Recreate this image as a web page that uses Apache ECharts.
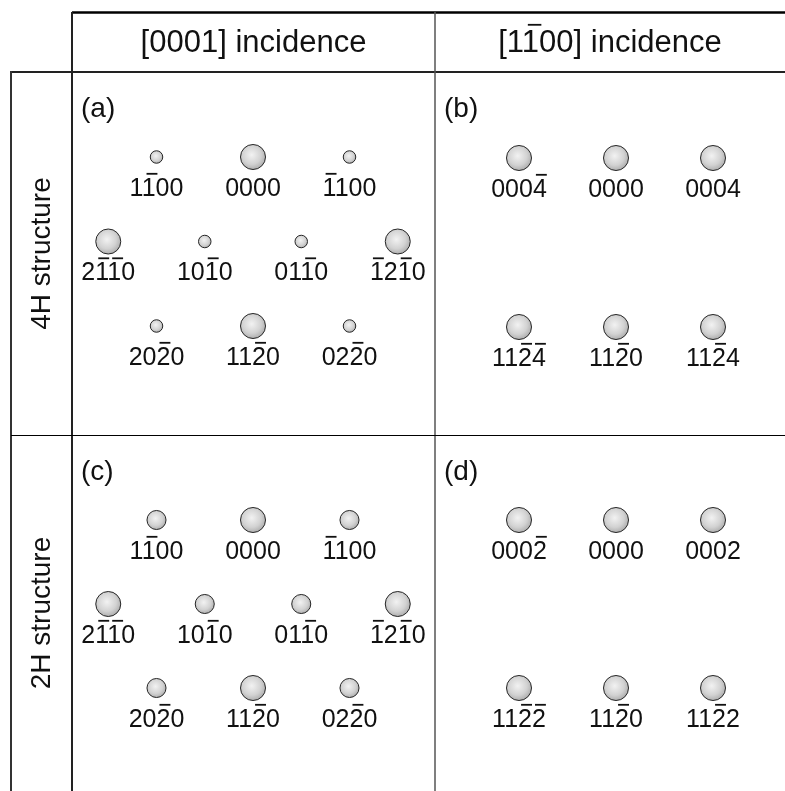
<!DOCTYPE html>
<html>
<head>
<meta charset="utf-8">
<script src="https://cdn.jsdelivr.net/npm/echarts@6/dist/echarts.min.js"></script>
<style>
  html, body { margin: 0; padding: 0; background: #fff; }
  #chart { width: 785px; height: 791px; }
</style>
</head>
<body>
<div id="chart"></div>
<script>
// Miller–Bravais indices of the reflections; a '-' marks the next digit as negative (drawn with an overbar)
const zone0001Labels = ['1-100', '0000', '-1100', '2-1-10', '10-10', '01-10', '-12-10', '20-20', '11-20', '02-20'];
const zone0001H = [-1, 0, 1, -1.5, -0.5, 0.5, 1.5, -1, 0, 1];
const zone0001V = [0, 0, 0, -1, -1, -1, -1, -2, -2, -2];
const intensity4H0001 = [0.25, 1, 0.25, 1, 0.25, 0.25, 1, 0.25, 1, 0.25];
const intensity2H0001 = [0.58, 1, 0.58, 1, 0.58, 0.58, 1, 0.58, 1, 0.58];

const zone1100H = [-1, 0, 1, -1, 0, 1];
const zone1100V = [0, 0, 0, -2, -2, -2];
const labels4H1100 = ['000-4', '0000', '0004', '11-2-4', '11-20', '11-24'];
const labels2H1100 = ['000-2', '0000', '0002', '11-2-2', '11-20', '11-22'];
const intensity4H1100 = [1, 1, 1, 1, 1, 1];
const intensity2H1100 = [1, 1, 1, 1, 1, 1];

const columnHeaders = ['[0001] incidence', '[1-100] incidence'];
const rowHeaders = ['4H structure', '2H structure'];
const panelTags = ['(a)', '(b)', '(c)', '(d)'];

const FONT = '"Liberation Sans", Arial, Helvetica, sans-serif';
const INK = '#111';
const SPOT_R = 12.5;     // radius of a full-intensity spot, px
const LABEL_FS = 25;
const LABEL_DY = 32;     // label centre below the spot centre

// table layout
const COL_X = [72, 435, 785];
const ROW_Y = [72, 435, 791];

const panels = [
  { col: 0, row: 0, origin: [253, 157], step: [96.5, 84.5], labels: zone0001Labels, h: zone0001H, v: zone0001V, I: intensity4H0001 },
  { col: 1, row: 0, origin: [616, 158], step: [97, 84.5],   labels: labels4H1100,   h: zone1100H, v: zone1100V, I: intensity4H1100 },
  { col: 0, row: 1, origin: [253, 520], step: [96.5, 84],   labels: zone0001Labels, h: zone0001H, v: zone0001V, I: intensity2H0001 },
  { col: 1, row: 1, origin: [616, 520], step: [97, 84],     labels: labels2H1100,   h: zone1100H, v: zone1100V, I: intensity2H1100 }
];

const measureCtx = document.createElement('canvas').getContext('2d');

function parseIndices(str) {
  let text = '';
  const bars = [];
  for (let i = 0; i < str.length; i++) {
    if (str[i] === '-' && /\d/.test(str[i + 1] || '')) bars.push(text.length);
    else text += str[i];
  }
  return { text, bars };
}

// Text centred at (cx, cy) with overbars above the negative digits
function indexElements(str, cx, cy, fs) {
  const { text, bars } = parseIndices(str);
  measureCtx.font = fs + 'px ' + FONT;
  const total = measureCtx.measureText(text).width;
  const left = cx - total / 2;
  const els = [{
    type: 'text',
    style: { text, x: cx, y: cy, fontSize: fs, fontFamily: FONT, fill: INK, align: 'center', verticalAlign: 'middle' }
  }];
  bars.forEach(function (i) {
    const x0 = left + measureCtx.measureText(text.slice(0, i)).width;
    const cw = measureCtx.measureText(text[i]).width;
    els.push({
      type: 'rect',
      shape: { x: x0 + 0.12 * fs, y: cy - 0.5 * fs - 3.6, width: cw - 0.12 * fs, height: 1.8 },
      style: { fill: INK }
    });
  });
  return els;
}

const spotFill = new echarts.graphic.RadialGradient(0.45, 0.42, 0.6, [
  { offset: 0, color: '#f2f2f2' },
  { offset: 0.6, color: '#d2d2d2' },
  { offset: 1, color: '#a8a8a8' }
]);

const grids = [], xAxes = [], yAxes = [], series = [];
panels.forEach(function (p, k) {
  const left = COL_X[p.col], width = COL_X[p.col + 1] - left;
  const top = ROW_Y[p.row], height = ROW_Y[p.row + 1] - top;
  grids.push({ left, top, width, height });
  xAxes.push({
    type: 'value', gridIndex: k, show: false,
    min: -(p.origin[0] - left) / p.step[0], max: (left + width - p.origin[0]) / p.step[0]
  });
  yAxes.push({
    type: 'value', gridIndex: k, show: false,
    max: (p.origin[1] - top) / p.step[1], min: -(top + height - p.origin[1]) / p.step[1]
  });
  series.push({
    type: 'custom',
    xAxisIndex: k, yAxisIndex: k,
    silent: true,
    clip: false,
    data: p.h.map(function (h, i) { return [h, p.v[i], p.I[i]]; }),
    renderItem: function (params, api) {
      const c = api.coord([api.value(0), api.value(1)]);
      const r = SPOT_R * Math.sqrt(api.value(2));
      const children = [{
        type: 'circle',
        shape: { cx: c[0], cy: c[1], r },
        style: { fill: spotFill, stroke: '#262626', lineWidth: 1 }
      }].concat(indexElements(p.labels[params.dataIndex], c[0], c[1] + LABEL_DY, LABEL_FS));
      return { type: 'group', children };
    }
  });
});

// table rules
function rule(x1, y1, x2, y2, w, color) {
  return { type: 'line', shape: { x1, y1, x2, y2 }, style: { stroke: color, lineWidth: w }, silent: true };
}
const graphics = [
  rule(72, 12.5, 785, 12.5, 2.6, '#000'),
  rule(72, 12, 72, 791, 2, '#222'),
  rule(10, 72, 785, 72, 2, '#222'),
  rule(11, 71, 11, 791, 2, '#333'),
  rule(435, 12, 435, 791, 1.5, '#555'),
  rule(11, 435.5, 785, 435.5, 1, '#000')
];

// column headers
columnHeaders.forEach(function (t, j) {
  graphics.push({ type: 'group', children: indexElements(t, (COL_X[j] + COL_X[j + 1]) / 2, 43, 31) });
});
// row headers, reading bottom to top
rowHeaders.forEach(function (t, j) {
  graphics.push({
    type: 'text', x: 42, y: (ROW_Y[j] + ROW_Y[j + 1]) / 2, rotation: Math.PI / 2,
    style: { text: t, x: 0, y: 0, fontSize: 28, fontFamily: FONT, fill: INK, align: 'center', verticalAlign: 'middle' }
  });
});
// panel tags
panels.forEach(function (p, k) {
  graphics.push({
    type: 'text',
    style: { text: panelTags[k], x: COL_X[p.col] + 9, y: ROW_Y[p.row] + 37, fontSize: 28, fontFamily: FONT, fill: INK, align: 'left', verticalAlign: 'middle' }
  });
});

const chart = echarts.init(document.getElementById('chart'), null, { renderer: 'canvas' });
chart.setOption({
  backgroundColor: '#fff',
  animation: false,
  grid: grids,
  xAxis: xAxes,
  yAxis: yAxes,
  series,
  graphic: graphics
});
</script>
</body>
</html>
